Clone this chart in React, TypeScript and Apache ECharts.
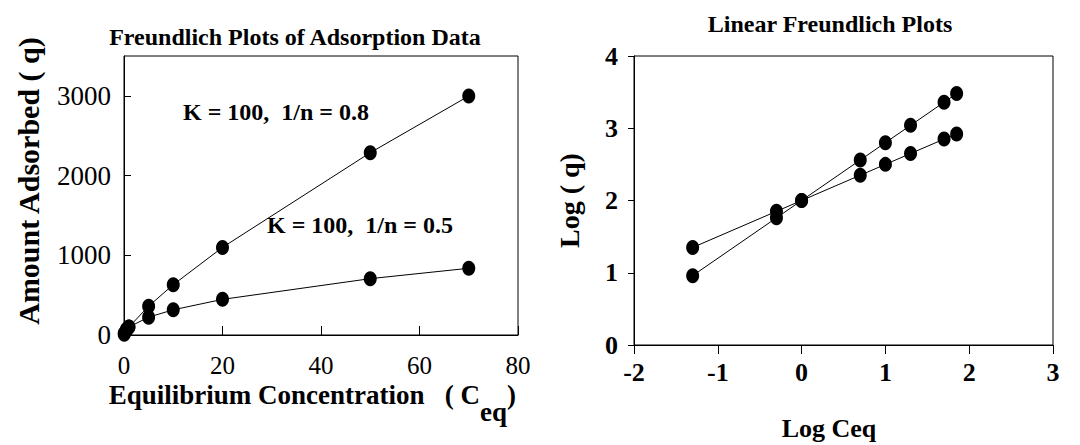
import React, { useEffect, useRef } from "react";
import * as echarts from "echarts";

// Equilibrium concentrations and adsorbed amounts (K = 100)
const ceq = [0.05, 0.5, 1, 5, 10, 20, 50, 70];
const qN08 = [9, 57, 100, 362, 631, 1099, 2287, 2998];
const qN05 = [22, 71, 100, 224, 316, 447, 707, 837];

// Same data on log-log axes
const logCeq = [-1.3, -0.3, 0, 0.7, 1, 1.3, 1.7, 1.85];
const logQN08 = [0.96, 1.76, 2, 2.56, 2.8, 3.04, 3.36, 3.48];
const logQN05 = [1.35, 1.85, 2, 2.35, 2.5, 2.65, 2.85, 2.92];

const labelN08 = "K = 100,  1/n = 0.8";
const labelN05 = "K = 100,  1/n = 0.5";

const FONT = "'Liberation Serif', 'Times New Roman', Times, serif";

const pairs = (xs: number[], ys: number[]) => xs.map((x, i) => [x, ys[i]]);

export default function App() {
  const ref = useRef<HTMLDivElement>(null);

  useEffect(() => {
    document.body.style.margin = "0";
    if (!ref.current) return;
    const chart = echarts.init(ref.current, undefined, { renderer: "svg" });

    const lineSeries = (name: string, data: number[][], axis: number) => ({
      name,
      type: "line",
      xAxisIndex: axis,
      yAxisIndex: axis,
      data,
      symbol: "circle",
      symbolSize: [13, 15],
      clip: false,
      lineStyle: { color: "#000", width: 1 },
      itemStyle: { color: "#000" },
    });

    const plain = (v: number) => String(v);
    const bold = (size: number) => `bold ${size}px ${FONT}`;

    chart.setOption({
      animation: false,
      backgroundColor: "#fff",
      textStyle: { fontFamily: FONT, color: "#000" },
      title: [
        {
          text: "Freundlich Plots of Adsorption Data",
          left: 290,
          top: 20,
          textAlign: "center",
          textStyle: { fontFamily: FONT, fontSize: 24, fontWeight: "bold", color: "#000" },
        },
        {
          text: "Linear Freundlich Plots",
          left: 825,
          top: 7,
          textAlign: "center",
          textStyle: { fontFamily: FONT, fontSize: 24, fontWeight: "bold", color: "#000" },
        },
      ],
      grid: [
        { left: 124, top: 56, width: 394, height: 279, show: true, borderColor: "#000", borderWidth: 1 },
        { left: 634, top: 56, width: 419, height: 289, show: true, borderColor: "#000", borderWidth: 1 },
      ],
      xAxis: [
        {
          gridIndex: 0,
          type: "value",
          min: 0,
          max: 80,
          interval: 20,
          axisLine: { show: true, onZero: false, lineStyle: { color: "#000" } },
          axisTick: { show: true, inside: true, length: 9, lineStyle: { color: "#000" } },
          axisLabel: { color: "#000", fontFamily: FONT, fontSize: 25, margin: 18, formatter: plain },
          splitLine: { show: false },
        },
        {
          gridIndex: 1,
          type: "value",
          min: -2,
          max: 3,
          interval: 1,
          axisLine: { show: true, onZero: false, lineStyle: { color: "#000" } },
          axisTick: { show: true, inside: false, length: 9, lineStyle: { color: "#000" } },
          axisLabel: { color: "#000", fontFamily: FONT, fontSize: 26, fontWeight: "bold", margin: 14, formatter: plain },
          splitLine: { show: false },
        },
      ],
      yAxis: [
        {
          gridIndex: 0,
          type: "value",
          min: 0,
          max: 3500,
          interval: 1000,
          axisLine: { show: true, onZero: false, lineStyle: { color: "#000" } },
          axisTick: { show: true, inside: true, length: 7, lineStyle: { color: "#000" } },
          axisLabel: { color: "#000", fontFamily: FONT, fontSize: 27, margin: 13, showMaxLabel: false, formatter: plain },
          splitLine: { show: false },
        },
        {
          gridIndex: 1,
          type: "value",
          min: 0,
          max: 4,
          interval: 1,
          axisLine: { show: true, onZero: false, lineStyle: { color: "#000" } },
          axisTick: { show: true, inside: false, length: 6, lineStyle: { color: "#000" } },
          axisLabel: { color: "#000", fontFamily: FONT, fontSize: 26, fontWeight: "bold", margin: 16, formatter: plain },
          splitLine: { show: false },
          name: "Log ( q)",
          nameLocation: "middle",
          nameGap: 51,
          nameRotate: 90,
          nameTextStyle: { color: "#000", fontFamily: FONT, fontSize: 28, fontWeight: "bold" },
        },
      ],
      graphic: [
        {
          type: "text",
          x: 28,
          y: 181,
          rotation: Math.PI / 2,
          style: { text: "Amount Adsorbed ( q)", font: bold(30), fill: "#000", align: "center", verticalAlign: "middle" },
        },
        { type: "text", left: 183, top: 100, style: { text: labelN08, font: bold(24), fill: "#000" } },
        { type: "text", left: 267, top: 213, style: { text: labelN05, font: bold(24), fill: "#000" } },
        {
          type: "text",
          right: 1080 - 480,
          top: 381,
          style: { text: "Equilibrium Concentration   ( C", font: bold(27), fill: "#000" },
        },
        { type: "text", left: 480, top: 398, style: { text: "eq", font: bold(27), fill: "#000" } },
        { type: "text", left: 507, top: 381, style: { text: ")", font: bold(27), fill: "#000" } },
        {
          type: "text",
          x: 829,
          y: 428,
          style: { text: "Log Ceq", font: bold(26), fill: "#000", align: "center", verticalAlign: "middle" },
        },
      ],
      series: [
        lineSeries("n08", pairs(ceq, qN08), 0),
        lineSeries("n05", pairs(ceq, qN05), 0),
        lineSeries("logN08", pairs(logCeq, logQN08), 1),
        lineSeries("logN05", pairs(logCeq, logQN05), 1),
      ],
    });

    return () => chart.dispose();
  }, []);

  return <div ref={ref} style={{ width: 1080, height: 445 }} />;
}
